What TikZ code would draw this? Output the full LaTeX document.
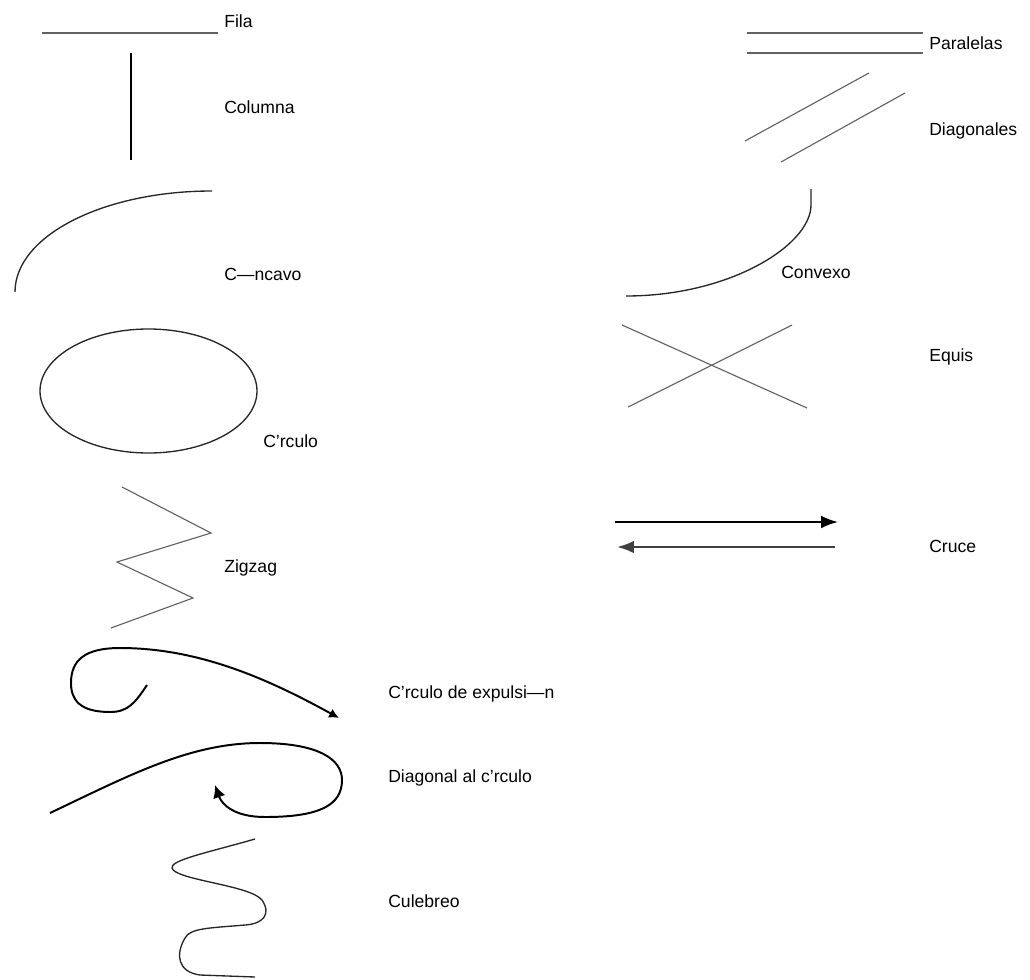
\documentclass[tikz,border=0pt]{standalone}
\usepackage{fontspec}
\setmainfont{Liberation Sans}
\usetikzlibrary{arrows.meta}

\tikzset{
  labeltext/.style={anchor=base west, inner sep=0pt, font=\fontsize{12.5}{15}\selectfont},
  thinline/.style={draw=black!62, line width=0.8pt},
  midline/.style={draw=black!85, line width=0.95pt},
  heavyline/.style={draw=black, line width=1.4pt},
}

\begin{document}
\begin{tikzpicture}[x=0.025cm, y=-0.025cm]
    \useasboundingbox (0,0) rectangle (1030,979);

    % Define labels
    \node[labeltext] (fila) at (224,28) {Fila};
    \node[labeltext] (columna) at (224,113) {Columna};
    \node[labeltext] (concavo) at (224,280) {C—ncavo};
    \node[labeltext] (circulo) at (263,447) {C’rculo};
    \node[labeltext] (zigzag) at (224,572) {Zigzag};
    \node[labeltext] (expulsion) at (388,698) {C’rculo de expulsi—n};
    \node[labeltext] (diagcirc) at (388,782) {Diagonal al c’rculo};
    \node[labeltext] (culebreo) at (388,907) {Culebreo};
    \node[labeltext] (paralelas) at (929,50) {Paralelas};
    \node[labeltext] (diagonales) at (929,135) {Diagonales};
    \node[labeltext] (convexo) at (781,278) {Convexo};
    \node[labeltext] (equis) at (929,361) {Equis};
    \node[labeltext] (cruce) at (929,552) {Cruce};

    % Left column of shapes
    \draw[thinline] (42,33) -- (218,33);
    \draw[heavyline] (131,53) -- (131,160);
    \draw[midline] (15,292) .. controls (15,236) and (103,191) .. (212,191);
    \draw[midline] (148.5,391) ellipse [x radius=108.5, y radius=62];
    \draw[thinline] (122,487) -- (211,533) -- (117,562) -- (193,598) -- (111,628);
    \draw[heavyline, -{Latex[length=7pt,width=7pt]}] (147,685) .. controls (135,703) and (128,712) .. (110,712)
        .. controls (80,712) and (71,700) .. (71,683)
        .. controls (71,660) and (85,648) .. (120,648)
        .. controls (200,648) and (270,680) .. (339,718);
    \draw[heavyline, -{Latex[length=9pt,width=9pt]}] (50,813) .. controls (130,775) and (190,743) .. (260,743)
        .. controls (320,743) and (342,760) .. (342,780)
        .. controls (342,805) and (320,817) .. (265,817)
        .. controls (235,817) and (222,805) .. (215,785);
    \draw[midline] (255,839) .. controls (210,852) and (170,860) .. (172,868)
        .. controls (175,880) and (250,885) .. (262,900)
        .. controls (272,915) and (262,924) .. (245,925)
        .. controls (210,928) and (190,928) .. (185,938)
        .. controls (175,955) and (178,972) .. (200,975) -- (255,977);

    % Right column of shapes
    \draw[thinline] (747,33) -- (923,33);
    \draw[thinline] (747,53) -- (923,53);
    \draw[thinline] (745,141) -- (869,73);
    \draw[thinline] (781,162) -- (905,93);
    \draw[midline] (811,189) -- (811,205) .. controls (811,245) and (730,296) .. (626,296);
    \draw[thinline] (622,325) -- (807,408);
    \draw[thinline] (628,407) -- (792,325);
    \draw[heavyline, line width=1.3pt, -{Latex[length=12pt,width=9pt]}] (615,522) -- (838,522);
    \draw[heavyline, draw=black!75, line width=1.7pt, -{Latex[length=12pt,width=9pt]}] (835,547) -- (617,547);
\end{tikzpicture}
\end{document}
